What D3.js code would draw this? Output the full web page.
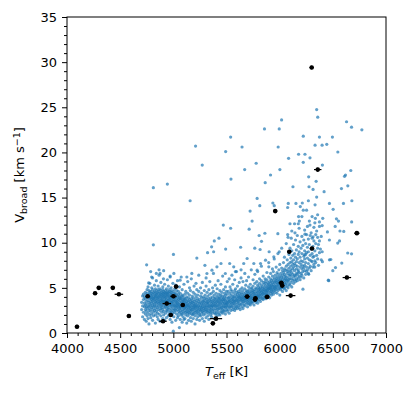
<!DOCTYPE html>
<html>
<head>
<meta charset="utf-8">
<script src="https://cdn.jsdelivr.net/npm/d3@7"></script>
<style>
  body { margin: 0; background: #fff; }
  svg, svg text { font-family: "DejaVu Sans", sans-serif; }
  .axis path, .axis line { stroke: #000; }
  .axis text { font-size: 13px; fill: #000; font-family: "DejaVu Sans", sans-serif; }
</style>
</head>
<body>
<div id="chart"></div>
<script>
"use strict";

// dense part of the sample, cool side: read column by column (Teff, then the Vbroad values seen there)
var coolTeff = [4702, 4711, 4719, 4728, 4737, 4745, 4753, 4762, 4771, 4779, 4788, 4797, 4805, 4814, 4823,
    4831, 4840, 4849, 4857, 4866, 4875, 4883, 4892, 4901, 4909, 4918, 4927, 4935, 4944, 4953, 4961, 4970,
    4979, 4987, 4996, 5005, 5013, 5022, 5031, 5039, 5048, 5057, 5065, 5074, 5083, 5091, 5100, 5109, 5117,
    5126, 5135, 5143, 5152, 5161, 5169, 5178, 5187, 5195, 5204, 5213, 5221, 5230, 5239, 5247, 5256, 5265,
    5273, 5282, 5291, 5299, 5308, 5317, 5325, 5334, 5343, 5351, 5360, 5369, 5377, 5386, 5395, 5403, 5412,
    5421, 5429, 5438, 5447, 5455, 5464, 5473, 5481, 5490, 5499];
var coolV = [
    [2.6, 3.4], [1.8, 3.0, 4.1], [2.3, 3.7, 4.3], [1.5, 2.9, 3.3, 4.0], [2.1, 2.6, 3.8, 4.5, 3.1],
    [1.3, 3.5, 4.2, 2.4, 2.9], [1.9, 2.7, 3.2, 3.9, 4.4, 4.8], [2.2, 3.6, 4.1, 2.9, 1.6, 5.1],
    [3.0, 3.4, 4.3, 2.5, 4.7, 1.0], [2.0, 3.8, 4.0, 3.2, 2.7, 4.5, 5.5], [1.7, 2.4, 3.5, 4.2, 3.9, 4.6, 3.0],
    [2.8, 3.3, 4.4, 4.1, 2.1, 3.7, 5.0], [1.4, 3.1, 3.6, 4.3, 4.8, 2.6, 3.9, 6.1],
    [2.3, 2.9, 4.0, 4.5, 3.4, 3.8, 1.9], [3.2, 3.7, 4.2, 4.6, 2.5, 3.0, 5.3],
    [1.1, 2.7, 3.5, 3.9, 4.1, 4.4, 2.0, 4.9], [2.4, 3.3, 3.6, 4.0, 4.3, 4.7, 3.0, 5.8],
    [1.8, 2.8, 3.4, 3.8, 4.2, 4.5, 2.2], [3.1, 3.7, 4.0, 4.4, 4.8, 2.6, 1.5, 5.2],
    [2.1, 2.9, 3.5, 3.9, 4.1, 4.6, 3.3, 6.4], [2.5, 3.2, 3.6, 4.2, 4.4, 4.9, 1.3],
    [1.9, 2.7, 3.4, 3.8, 4.0, 4.3, 4.7, 3.0, 5.6], [2.3, 3.1, 3.7, 4.1, 4.5, 2.8, 3.5],
    [1.6, 2.6, 3.3, 3.9, 4.2, 4.4, 4.8, 3.6, 5.1], [2.0, 3.0, 3.5, 4.0, 4.3, 4.6, 2.4, 6.9],
    [2.8, 3.2, 3.8, 4.1, 4.5, 3.5, 1.4, 5.4], [2.2, 2.9, 3.6, 3.9, 4.2, 4.7, 3.3, 4.4],
    [1.7, 2.5, 3.4, 3.7, 4.0, 4.4, 4.9, 3.1], [2.4, 3.0, 3.5, 4.1, 4.3, 4.6, 2.7, 5.9],
    [1.9, 2.8, 3.3, 3.8, 4.2, 4.5, 3.6, 5.2], [2.6, 3.2, 3.7, 4.0, 4.4, 4.8, 2.1],
    [1.5, 2.3, 3.0, 3.5, 3.9, 4.1, 4.6, 3.3, 6.3], [2.7, 3.4, 3.8, 4.3, 4.5, 2.4, 3.1, 5.0],
    [2.0, 2.9, 3.6, 4.0, 4.2, 4.7, 1.2, 3.3], [2.5, 3.1, 3.5, 3.9, 4.4, 2.2, 5.5, 4.1],
    [1.8, 2.7, 3.3, 3.7, 4.1, 4.6, 3.0, 6.6], [2.3, 3.0, 3.6, 3.9, 4.3, 2.6, 4.9],
    [1.4, 2.5, 3.2, 3.5, 4.0, 4.4, 2.9, 5.3], [2.1, 2.8, 3.4, 3.8, 4.2, 3.1, 4.7],
    [2.6, 3.0, 3.6, 4.0, 1.7, 3.3, 5.8], [1.9, 2.4, 3.2, 3.7, 4.3, 2.9, 4.6],
    [0.6, 2.2, 2.7, 3.4, 3.9, 3.1, 4.1, 5.1], [1.5, 2.5, 3.0, 3.6, 4.4, 2.8, 3.8],
    [2.0, 2.9, 3.3, 3.8, 4.0, 2.3, 6.2], [1.2, 2.6, 3.1, 3.5, 4.2, 2.1, 4.8],
    [1.8, 2.4, 2.9, 3.4, 3.7, 4.1, 3.2], [2.2, 2.7, 3.2, 3.6, 3.9, 1.5, 5.4],
    [1.6, 2.5, 3.0, 3.4, 4.3, 2.8, 3.7], [2.0, 2.9, 3.3, 3.8, 2.3, 4.6],
    [1.1, 2.4, 2.7, 3.1, 3.5, 4.0, 3.0], [1.9, 2.6, 3.2, 3.6, 2.2, 4.4, 5.7],
    [1.4, 2.3, 2.8, 3.4, 3.9, 3.0], [2.1, 2.5, 3.1, 3.7, 2.9, 4.2, 5.0],
    [1.7, 2.7, 3.3, 3.5, 2.4, 4.7], [1.3, 2.2, 2.9, 3.2, 3.8, 2.6, 6.0],
    [2.0, 2.6, 3.0, 3.6, 4.1, 3.4], [1.6, 2.4, 2.8, 3.3, 3.9, 2.1, 4.5],
    [2.2, 2.7, 3.1, 3.5, 3.0, 5.2], [1.0, 1.9, 2.5, 3.2, 3.7, 2.8, 4.3],
    [2.3, 2.9, 3.4, 3.0, 4.0, 5.5], [1.5, 2.1, 2.6, 3.1, 3.6, 2.4, 4.8],
    [1.8, 2.7, 3.3, 3.8, 2.9, 4.2], [2.4, 3.0, 3.5, 2.2, 4.6, 6.4],
    [1.4, 2.0, 2.6, 3.2, 3.7, 2.8], [1.9, 2.5, 3.0, 3.4, 4.1, 5.0],
    [2.2, 2.8, 3.3, 3.9, 2.6, 4.4], [1.6, 2.4, 3.1, 3.6, 2.9, 5.6],
    [2.0, 2.7, 3.2, 3.5, 4.0, 2.3], [1.3, 2.5, 2.9, 3.4, 3.8, 4.7],
    [2.1, 2.6, 3.1, 3.6, 2.8, 4.2], [1.7, 2.4, 3.0, 3.3, 3.9, 5.2, 6.1],
    [2.3, 2.8, 3.4, 3.7, 2.6, 4.5], [1.9, 2.5, 3.2, 3.5, 4.1, 3.0],
    [1.5, 2.2, 2.9, 3.3, 3.8, 4.8], [2.4, 3.0, 3.6, 2.7, 4.3, 5.7],
    [2.0, 2.6, 3.1, 3.5, 3.9, 2.3], [1.8, 2.8, 3.3, 3.7, 4.4, 3.0],
    [2.2, 2.5, 3.0, 3.4, 4.0, 5.0], [2.6, 3.2, 3.6, 2.9, 4.6, 6.6],
    [1.6, 2.3, 3.1, 3.5, 3.8, 4.2], [2.1, 2.7, 3.3, 3.9, 3.0, 5.3],
    [2.5, 3.0, 3.4, 3.7, 4.4, 2.2], [1.9, 2.8, 3.2, 3.6, 4.1, 4.9],
    [2.3, 2.6, 3.5, 3.9, 3.0, 5.8], [2.7, 3.1, 3.4, 3.8, 4.3, 2.1],
    [2.0, 2.9, 3.3, 3.7, 4.0, 4.7], [2.4, 3.2, 3.6, 2.7, 4.2, 5.4],
    [2.8, 3.0, 3.5, 3.9, 4.5, 2.3], [2.2, 2.6, 3.3, 3.7, 4.1, 6.3],
    [2.5, 3.1, 3.5, 3.8, 2.9, 4.8], [2.9, 3.3, 3.7, 4.0, 2.4, 4.4],
    [2.1, 2.8, 3.2, 3.6, 4.2, 5.1], [2.6, 3.0, 3.4, 3.9, 4.6, 3.2]
];

// dense part of the sample, hot side (band turns up and widens)
var hotTeff = [5507, 5516, 5525, 5533, 5542, 5551, 5559, 5568, 5577, 5585, 5594, 5603, 5611, 5620, 5629,
    5637, 5646, 5655, 5663, 5672, 5681, 5689, 5698, 5707, 5715, 5724, 5733, 5741, 5750, 5759, 5767, 5776,
    5785, 5793, 5802, 5811, 5819, 5828, 5837, 5845, 5854, 5863, 5871, 5880, 5889, 5897, 5906, 5915, 5923,
    5932, 5941, 5949, 5958, 5967, 5975, 5984, 5993, 6001, 6010, 6019, 6027, 6036, 6045, 6053, 6062, 6071,
    6079, 6088, 6097, 6105, 6114, 6123, 6131, 6140, 6149, 6157, 6166, 6175, 6183, 6192, 6201, 6209, 6218,
    6227, 6235, 6244, 6253, 6261, 6270, 6279, 6287, 6296, 6305, 6313, 6322, 6331, 6339, 6348, 6357, 6365,
    6374, 6383, 6391, 6400];
var hotV = [
    [2.4, 3.6, 2.9, 4.3, 5.7, 3.3], [3.1, 2.6, 3.9, 4.6, 3.4], [2.2, 3.5, 4.0, 2.9, 6.0, 3.7],
    [2.8, 3.2, 4.4, 3.6, 5.1], [3.4, 2.5, 3.9, 4.2, 3.0, 4.8], [2.9, 3.7, 4.6, 3.3, 6.4],
    [2.6, 3.5, 4.1, 3.1, 5.4, 3.8], [3.3, 2.8, 4.4, 3.6, 4.0], [2.5, 3.9, 3.2, 4.7, 3.5, 5.9],
    [3.0, 3.6, 4.2, 2.7, 4.9], [3.4, 4.0, 2.9, 3.7, 4.5, 6.8], [2.7, 3.2, 4.3, 3.8, 5.2],
    [3.5, 3.0, 4.1, 4.6, 3.6], [2.8, 3.9, 3.3, 4.4, 5.6, 4.0], [3.1, 3.7, 4.8, 2.6, 4.2],
    [3.6, 3.2, 4.0, 4.5, 6.1, 3.8], [2.9, 3.5, 4.3, 3.9, 5.0], [3.3, 4.1, 3.7, 4.7, 2.7, 5.7],
    [3.8, 3.1, 4.4, 4.0, 3.5], [3.0, 3.6, 4.2, 4.9, 6.6, 3.9], [3.4, 4.5, 3.8, 4.1, 5.3],
    [3.7, 3.2, 4.3, 4.7, 3.9, 5.8], [2.9, 3.5, 4.0, 4.6, 4.2], [3.6, 4.4, 3.3, 5.1, 3.9, 6.2],
    [3.2, 3.8, 4.1, 4.8, 4.5], [3.9, 3.5, 4.3, 5.4, 3.1, 4.0], [3.4, 4.6, 3.7, 4.2, 5.0, 7.0],
    [3.8, 4.0, 3.3, 4.5, 4.9], [3.5, 4.3, 3.9, 5.2, 4.7, 5.9], [3.1, 4.1, 3.7, 4.6, 4.4],
    [3.9, 3.6, 4.8, 4.2, 5.5, 6.5], [3.4, 4.4, 4.0, 5.0, 3.8], [4.2, 3.7, 4.6, 4.9, 5.7, 4.1],
    [3.6, 4.0, 4.5, 5.3, 3.3, 6.8], [4.3, 3.9, 4.8, 4.1, 5.1], [3.7, 4.6, 4.2, 5.5, 4.9, 6.0],
    [4.0, 4.4, 3.5, 5.0, 4.7], [4.5, 3.9, 4.2, 5.3, 5.8, 7.4], [3.8, 4.7, 4.3, 5.1, 4.9],
    [4.1, 4.6, 5.6, 4.4, 3.7, 6.3], [4.4, 3.9, 5.0, 4.8, 5.4], [4.0, 4.7, 5.2, 4.3, 6.0, 5.7],
    [4.6, 4.2, 5.5, 4.9, 3.8], [4.3, 5.1, 4.7, 5.9, 6.7, 4.5], [4.8, 4.1, 5.3, 5.0, 5.6],
    [4.5, 5.4, 4.9, 4.2, 6.2, 7.8], [3.9, 4.7, 5.2, 5.7, 5.0], [4.9, 4.4, 5.5, 6.0, 5.1, 6.6],
    [4.6, 5.3, 4.8, 5.8, 4.2], [5.0, 4.5, 5.6, 6.3, 5.2, 7.1], [4.3, 4.8, 5.4, 5.9, 6.8],
    [4.7, 5.2, 5.0, 6.1, 5.6, 8.2], [5.1, 4.5, 5.7, 6.4, 4.9], [4.8, 5.4, 6.0, 5.2, 7.3, 5.8],
    [4.4, 5.0, 5.6, 6.2, 6.7], [5.2, 4.7, 5.9, 5.5, 6.5, 8.8], [4.9, 5.3, 6.1, 5.7, 7.0],
    [4.2, 5.0, 5.5, 6.3, 5.8, 7.6], [5.4, 4.8, 6.0, 6.6, 5.1], [5.0, 5.7, 6.2, 5.3, 7.2, 9.4],
    [4.6, 5.5, 6.4, 5.9, 6.9], [5.3, 5.0, 6.1, 6.7, 7.8], [5.6, 4.9, 6.5, 5.8, 7.1, 8.4],
    [5.1, 6.0, 5.4, 6.9, 6.3], [5.5, 4.7, 6.2, 7.4, 5.9, 9.9], [5.2, 6.6, 5.8, 7.0, 8.1],
    [5.7, 6.1, 5.0, 7.6, 6.8, 10.6], [5.4, 6.4, 7.2, 5.9, 8.7], [6.0, 5.3, 6.8, 7.8, 6.5, 9.4],
    [5.6, 6.3, 7.4, 8.3, 7.0], [5.1, 6.7, 6.0, 7.9, 9.1, 11.3], [5.8, 6.5, 7.6, 7.1, 8.6],
    [6.2, 5.5, 7.3, 8.1, 9.8], [5.9, 6.9, 7.7, 6.4, 8.8, 12.1], [6.3, 5.7, 7.5, 8.4, 10.3],
    [6.0, 7.1, 6.6, 9.2, 7.9], [6.5, 5.8, 8.2, 7.4, 10.8], [6.1, 7.0, 8.7, 9.6, 6.8],
    [6.7, 7.8, 6.3, 9.0, 11.6], [5.9, 7.3, 8.4, 10.1], [6.6, 7.6, 6.2, 9.4, 8.0],
    [7.1, 6.4, 8.8, 10.7, 12.9], [6.8, 7.9, 9.7, 7.4], [6.1, 7.2, 8.5, 10.3],
    [7.5, 6.9, 9.1, 11.4, 8.2], [6.5, 7.8, 9.9, 8.7], [7.3, 8.9, 6.8, 10.9, 13.6],
    [7.0, 8.3, 9.5, 11.8], [7.7, 6.6, 9.0, 10.4], [8.1, 7.2, 9.8, 12.4],
    [7.4, 8.6, 10.8], [6.9, 8.0, 9.3, 11.1], [7.9, 8.8, 10.5, 12.9],
    [7.3, 9.6, 8.4], [8.5, 7.6, 10.2, 11.7], [9.1, 8.0, 12.2],
    [7.8, 9.9, 10.9], [8.6, 11.3], [9.4, 8.2, 10.6, 13.1],
    [7.5, 9.8], [10.2, 8.9, 11.8], [9.3],
    [8.1, 10.7], [9.0, 11.9]
];

// scattered points outside the dense band, read one by one
var sparseTeff = [6348, 6358, 6629, 6676, 6773, 6018, 5857, 5996, 6222, 6374, 6496, 5539, 5209, 5646, 5986,
    6333, 6399, 6443, 5492, 6547, 6178, 6238, 6084, 6285, 5272, 5779, 6222, 6402, 5671, 6002, 6669, 5914,
    6610, 6619, 5542, 6273, 5864, 6343, 6125, 6314, 6641, 4812, 4944, 6276, 6418, 6581, 5158, 5788, 6270,
    6348, 6679, 5936, 6081, 6153, 6213, 6468, 6600, 5813, 5949, 6075, 6194, 6333, 6222,
    5722, 6503, 6178, 6336, 6405, 6534, 6553, 5741, 6185, 6175, 5470, 6097, 6285, 6374, 6522, 5539, 5713,
    6449, 6603, 6144, 5861, 6075, 5385, 5429, 5807, 5829, 5983, 6109, 6238, 6314, 6468, 6563, 4812, 5360,
    5633, 5492, 5766, 5816, 5901, 5996, 6232, 6676, 5001, 5322, 5379, 5221, 5448, 5530, 6330, 6402, 6468,
    6481, 6525, 5297, 5637, 5584, 6273, 6462, 6219, 4749, 4866, 4787, 4768, 4840,
    5316, 5363, 5410, 5489, 5568, 5662, 5694, 5757, 5788, 5820, 5867, 5898, 5945, 5127, 5174, 5064, 4970,
    4875, 4907, 4796, 6677, 6567, 6546, 6640, 6584, 6500, 6457, 5000];
var sparseV = [24.75, 23.9, 23.4, 22.8, 22.5, 23.6, 22.6, 22.6, 21.8, 21.7, 21.7, 21.7, 20.7, 20.6, 20.6,
    20.8, 20.8, 20.9, 20.1, 20.05, 19.8, 19.8, 19.35, 19.4, 18.6, 18.8, 18.9, 18.6, 18.1, 18.1, 18.0, 17.5,
    17.35, 17.5, 17.05, 17.3, 16.65, 16.8, 16.2, 15.9, 16.3, 16.1, 16.5, 16.2, 15.65, 16.0, 14.65, 14.9, 14.65,
    15.05, 14.65, 14.4, 14.35, 14.35, 14.4, 14.35, 14.35, 14.1, 14.1, 13.9, 14.0, 14.2, 13.6,
    13.5, 13.7, 12.9, 12.7, 12.7, 12.65, 12.4, 12.4, 12.4, 12.1, 11.95, 12.1, 11.95, 12.3, 11.8, 11.6, 11.5,
    11.2, 11.25, 11.1, 11.05, 10.9, 10.2, 10.5, 10.8, 10.15, 11.0, 10.5, 10.95, 10.65, 10.3, 10.2, 9.77, 9.55,
    9.5, 9.3, 9.4, 9.25, 9.0, 9.0, 8.66, 8.77, 8.7, 8.9, 9.0, 8.3, 7.7, 7.7, 7.3, 7.9, 8.1,
    8.14, 7.25, 7.5, 7.0, 6.8, 6.5, 5.8, 4.85, 7.55, 7.0, 6.8, 5.55, 6.6,
    6.59, 6.96, 7.33, 6.59, 7.33, 7.7, 8.25, 7.7, 6.96, 7.7, 8.07, 7.33, 8.44, 6.2, 6.6, 5.85, 6.2,
    6.6, 6.0, 6.2, 12.3, 11.3, 9.96, 8.86, 7.75, 6.9, 5.85, 0.2];

// reference stars drawn in black with error bars
var refTeff = [6301, 6358, 5958, 6726, 6304, 6090, 6632, 6015, 6024, 6103, 5882, 5772, 5768, 5694, 5026,
    5001, 4759, 4938, 5089, 4976, 4903, 5401, 5372, 4582, 4488, 4431, 4299, 4264, 4094];
var refV = [29.4, 18.1, 13.5, 11.06, 9.36, 9.0, 6.14, 5.55, 5.25, 4.14, 4.0, 3.85, 3.7, 4.03, 5.14,
    4.07, 4.07, 3.26, 3.1, 2.0, 1.3, 1.59, 1.07, 1.89, 4.29, 5.0, 5.0, 4.4, 0.7];
var refTerr = [20, 35, 20, 25, 20, 20, 40, 25, 20, 45, 25, 20, 20, 25, 20,
    30, 20, 40, 20, 20, 35, 58, 20, 20, 40, 20, 20, 20, 20];
var refVerr = [0.2, 0.2, 0.2, 0.2, 0.2, 0.2, 0.2, 0.2, 0.2, 0.2, 0.2, 0.2, 0.2, 0.2, 0.2,
    0.2, 0.2, 0.2, 0.2, 0.2, 0.2, 0.2, 0.2, 0.2, 0.2, 0.2, 0.2, 0.2, 0.2];

var xTicks = [4000, 4500, 5000, 5500, 6000, 6500, 7000];
var yTicks = [0, 5, 10, 15, 20, 25, 30, 35];

var margin = {top: 17, right: 30, bottom: 62, left: 67};
var W = 416, H = 395;
var width = W - margin.left - margin.right;
var height = H - margin.top - margin.bottom;

var svg = d3.select("#chart").append("svg")
    .attr("width", W)
    .attr("height", H);
var g = svg.append("g")
    .attr("transform", "translate(" + margin.left + "," + margin.top + ")");

var x = d3.scaleLinear().domain([4000, 7000]).range([0, width]);
var y = d3.scaleLinear().domain([0, 35]).range([height, 0]);

// flatten the blue sample
var blue = [];
function addColumns(ts, vs) {
    ts.forEach(function(t, i) {
        (vs[i] || []).forEach(function(v) { blue.push({t: t, v: v}); });
    });
}
addColumns(coolTeff, coolV);
addColumns(hotTeff, hotV);
sparseTeff.forEach(function(t, i) { blue.push({t: t, v: sparseV[i]}); });

var plot = g.append("g");
plot.selectAll("circle.s")
    .data(blue)
    .enter().append("circle")
    .attr("class", "s")
    .attr("cx", function(d) { return x(d.t); })
    .attr("cy", function(d) { return y(d.v); })
    .attr("r", 1.6)
    .attr("fill", "#1f77b4")
    .attr("fill-opacity", 0.7);

var ref = refTeff.map(function(t, i) {
    return {t: t, v: refV[i], te: refTerr[i], ve: refVerr[i]};
});
var eb = plot.selectAll("g.ref").data(ref).enter().append("g").attr("class", "ref");
eb.append("line")
    .attr("x1", function(d) { return x(d.t - d.te); })
    .attr("x2", function(d) { return x(d.t + d.te); })
    .attr("y1", function(d) { return y(d.v); })
    .attr("y2", function(d) { return y(d.v); })
    .attr("stroke", "#000").attr("stroke-width", 1.2);
eb.append("line")
    .attr("x1", function(d) { return x(d.t); })
    .attr("x2", function(d) { return x(d.t); })
    .attr("y1", function(d) { return y(d.v - d.ve); })
    .attr("y2", function(d) { return y(d.v + d.ve); })
    .attr("stroke", "#000").attr("stroke-width", 1.2);
eb.append("circle")
    .attr("cx", function(d) { return x(d.t); })
    .attr("cy", function(d) { return y(d.v); })
    .attr("r", 2.3)
    .attr("fill", "#000");

// axes: major + minor ticks, outward
g.append("g").attr("class", "x axis")
    .attr("transform", "translate(0," + height + ")")
    .call(d3.axisBottom(x).tickValues(xTicks).tickFormat(d3.format("d")).tickSize(5).tickPadding(6));
g.append("g").attr("class", "x axis minor")
    .attr("transform", "translate(0," + height + ")")
    .call(d3.axisBottom(x).tickValues(d3.range(4100, 7000, 100).filter(function(v) { return v % 500; }))
        .tickSize(3).tickFormat(""));
g.append("g").attr("class", "y axis")
    .call(d3.axisLeft(y).tickValues(yTicks).tickSize(5).tickPadding(5));
g.append("g").attr("class", "y axis minor")
    .call(d3.axisLeft(y).tickValues(d3.range(1, 35, 1).filter(function(v) { return v % 5; }))
        .tickSize(3).tickFormat(""));
g.selectAll(".axis .domain").remove();
g.selectAll(".axis").attr("font-family", null);

// frame
g.append("rect")
    .attr("width", width).attr("height", height)
    .attr("fill", "none").attr("stroke", "#000").attr("stroke-width", 1);

// labels
var xl = g.append("text")
    .attr("x", width / 2).attr("y", height + 43)
    .attr("text-anchor", "middle").style("font-size", "13px");
xl.append("tspan").style("font-style", "italic").text("T");
xl.append("tspan").attr("baseline-shift", "-25%").style("font-size", "9.5px").text("eff");
xl.append("tspan").text(" [K]");

var yl = g.append("text")
    .attr("transform", "rotate(-90)")
    .attr("x", -height / 2).attr("y", -43)
    .attr("text-anchor", "middle").style("font-size", "13px");
yl.append("tspan").text("V");
yl.append("tspan").attr("baseline-shift", "-25%").style("font-size", "9.5px").text("broad");
yl.append("tspan").text(" [km s");
yl.append("tspan").attr("baseline-shift", "45%").style("font-size", "9.5px").text("\u22121");
yl.append("tspan").text("]");
</script>
</body>
</html>
